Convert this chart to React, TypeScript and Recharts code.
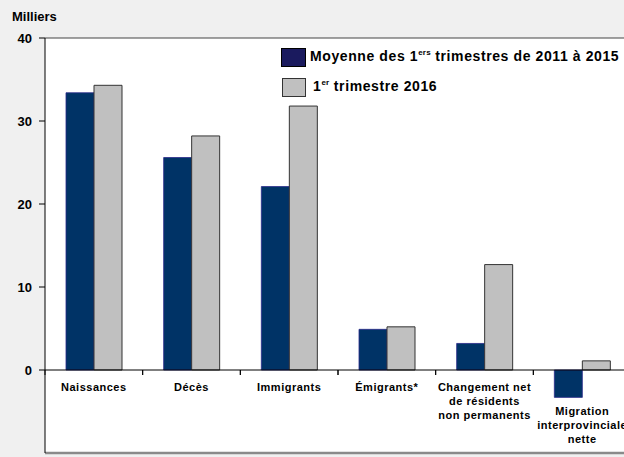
import { BarChart, Bar, XAxis, YAxis, CartesianGrid, ReferenceLine } from "recharts";

const categories = [
  "Naissances",
  "Décès",
  "Immigrants",
  "Émigrants*",
  "Changement net\nde résidents\nnon permanents",
  "\n\nMigration\ninterprovinciale\nnette",
];
const moyenne2011a2015 = [33.4, 25.6, 22.1, 4.9, 3.2, -3.3];
const trimestre2016 = [34.3, 28.2, 31.8, 5.2, 12.7, 1.1];
const yTicks = [-10, 0, 10, 20, 30, 40];

const data = categories.map((name, i) => ({
  name,
  moyenne: moyenne2011a2015[i],
  t2016: trimestre2016[i],
}));

const FONT = '"Liberation Sans", Arial, sans-serif';
const W = 640;
const H = 457;
const MARGIN = { top: 38, right: 9, bottom: 0, left: 0 };
const Y_AXIS_W = 45;
const X_AXIS_H = 4;
const Y_MIN = -10;
const Y_MAX = 40;
const PLOT_W = W - MARGIN.left - MARGIN.right - Y_AXIS_W;
const PLOT_H = H - MARGIN.top - MARGIN.bottom - X_AXIS_H;
const BAND = PLOT_W / categories.length;
const ZERO_Y = MARGIN.top + (PLOT_H * Y_MAX) / (Y_MAX - Y_MIN);

function CategoryTick(props: any) {
  const { x, payload } = props;
  const lines: string[] = String(payload.value).split("\n");
  let y = ZERO_Y + 21;
  const rows: { text: string; y: number }[] = [];
  lines.forEach((t) => {
    if (t === "") {
      y += 12;
    } else {
      rows.push({ text: t, y });
      y += 14;
    }
  });
  return (
    <g>
      <line x1={x - BAND / 2} x2={x - BAND / 2} y1={ZERO_Y} y2={ZERO_Y + 5} stroke="#000" />
      <line x1={x + BAND / 2} x2={x + BAND / 2} y1={ZERO_Y} y2={ZERO_Y + 5} stroke="#000" />
      {rows.map((r, i) => (
        <text
          key={i}
          x={x}
          y={r.y}
          textAnchor="middle"
          fontFamily={FONT}
          fontWeight="bold"
          fontSize={11}
          letterSpacing={0.5}
          fill="#000"
        >
          {r.text}
        </text>
      ))}
    </g>
  );
}

const legendText = {
  position: "absolute" as const,
  fontSize: 14,
  letterSpacing: 0.6,
  fontWeight: "bold" as const,
  color: "#000",
  whiteSpace: "nowrap" as const,
};

export default function App() {
  return (
    <div
      style={{
        position: "fixed",
        top: 0,
        left: 0,
        width: 624,
        height: 457,
        overflow: "hidden",
        background: "#f0f0f0",
        fontFamily: FONT,
      }}
    >
      <BarChart
        width={W}
        height={H}
        data={data}
        margin={MARGIN}
        barGap={0}
        barSize={28}
      >
        <CartesianGrid fill="#ffffff" horizontal={false} vertical={false} stroke="none" />
        <XAxis
          dataKey="name"
          height={X_AXIS_H}
          axisLine={false}
          tickLine={false}
          interval={0}
          tick={(p: any) => <CategoryTick {...p} />}
        />
        <YAxis
          type="number"
          domain={[Y_MIN, Y_MAX]}
          ticks={yTicks}
          width={Y_AXIS_W}
          allowDataOverflow
          tickSize={6}
          tickMargin={7}
          axisLine={{ stroke: "#000" }}
          tickLine={{ stroke: "#000" }}
          tick={{ fontSize: 13, fontWeight: "bold", fill: "#000", fontFamily: FONT }}
        />
        <ReferenceLine y={Y_MAX} stroke="#444" />
        <ReferenceLine y={Y_MIN} stroke="#8a8a8a" strokeWidth={2.5} />
        <Bar
          dataKey="moyenne"
          fill="#003366"
          stroke="#2a2a8a"
          strokeWidth={0.8}
          isAnimationActive={false}
        />
        <Bar
          dataKey="t2016"
          fill="#c0c0c0"
          stroke="#333333"
          strokeWidth={1}
          isAnimationActive={false}
        />
        <ReferenceLine y={0} stroke="#000" />
      </BarChart>

      <div
        style={{
          position: "absolute",
          left: 12,
          top: 9,
          fontSize: 13,
          fontWeight: "bold",
          color: "#000",
        }}
      >
        Milliers
      </div>

      <div style={{ position: "absolute", left: 281, top: 48, width: 25, height: 19, background: "#1a1a5e", border: "1px solid #000", boxSizing: "border-box" }} />
      <div style={{ ...legendText, left: 310, top: 48 }}>
        Moyenne des 1<sup style={{ fontSize: 8, letterSpacing: 0.2 }}>ers</sup> trimestres de 2011 à 2015
      </div>

      <div style={{ position: "absolute", left: 282, top: 78, width: 24, height: 19, background: "#c0c0c0", border: "1px solid #333", boxSizing: "border-box" }} />
      <div style={{ ...legendText, left: 313, top: 78 }}>
        1<sup style={{ fontSize: 8, letterSpacing: 0.2 }}>er</sup> trimestre 2016
      </div>
    </div>
  );
}
